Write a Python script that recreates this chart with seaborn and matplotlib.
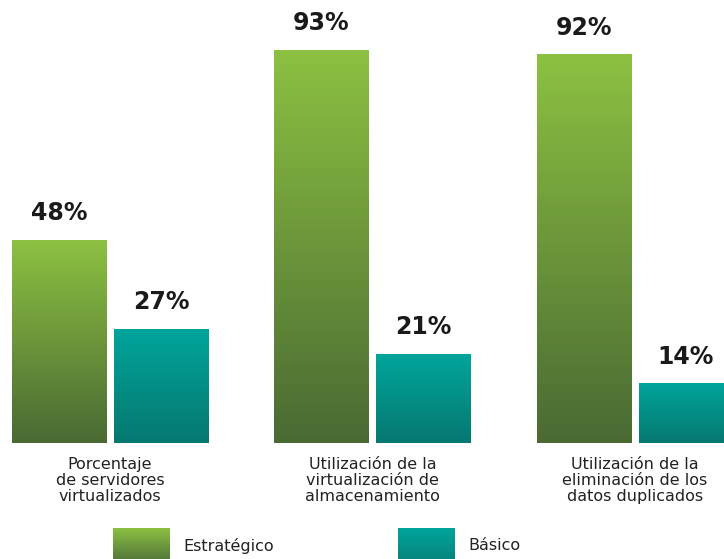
import numpy as np
import pandas as pd
import matplotlib
matplotlib.use("Agg")
import matplotlib.pyplot as plt
from matplotlib.colors import to_rgb
import seaborn as sns

# ---- data ----
categorias = [
    "Porcentaje\nde servidores\nvirtualizados",
    "Utilización de la\nvirtualización de\nalmacenamiento",
    "Utilización de la\neliminación de los\ndatos duplicados",
]
series = ["Estratégico", "Básico"]
estrategico = [48, 93, 92]
basico = [27, 21, 14]

# ---- styling ----
verde_top, verde_bot = "#8cc141", "#4a6a33"
teal_top, teal_bot = "#00a59b", "#067870"

sns.set_theme(style="white")
plt.rcParams["font.family"] = ["DejaVu Sans"]

df = pd.DataFrame({
    "categoria": categorias * 2,
    "grupo": [series[0]] * 3 + [series[1]] * 3,
    "valor": estrategico + basico,
})

W, H, DPI = 724, 559, 100
fig = plt.figure(figsize=(W / DPI, H / DPI), dpi=DPI)
ax = fig.add_axes([0, 116 / H, 1, 443 / H])

sns.barplot(
    data=df, x="categoria", y="valor", hue="grupo",
    hue_order=series, palette=[verde_top, teal_top],
    width=0.777, gap=0.078, errorbar=None, legend=False, ax=ax,
)


def gradiente(c_top, c_bot, n=256):
    a, b = np.array(to_rgb(c_top)), np.array(to_rgb(c_bot))
    t = np.linspace(0, 1, n)[:, None]
    return (a * (1 - t) + b * t)[:, None, :]


# vertical gradient fill for every bar
colores = [(verde_top, verde_bot), (teal_top, teal_bot)]
for cont, (ct, cb) in zip(ax.containers, colores):
    for bar in cont:
        x0, y0 = bar.get_x(), bar.get_y()
        w, h = bar.get_width(), bar.get_height()
        ax.imshow(gradiente(ct, cb), extent=[x0, x0 + w, y0, y0 + h],
                  origin="upper", aspect="auto", interpolation="bilinear",
                  zorder=bar.get_zorder() + 0.1)
        bar.set_facecolor("none")
        bar.set_edgecolor("none")
    ax.bar_label(cont, fmt="%g%%", padding=11, fontsize=17,
                 fontweight="bold", color="#1a1a1a")

ax.set_xlim(-0.419, 2.339)
ax.set_ylim(0, 105)
ax.set_xlabel("")
ax.set_ylabel("")
ax.set_yticks([])
ax.tick_params(axis="x", length=0, pad=10, labelsize=11.5, labelcolor="#222222")
for lab in ax.get_xticklabels():
    lab.set_linespacing(1.1)
for s in ax.spines.values():
    s.set_visible(False)

# ---- legend: gradient swatches with labels ----
leyenda = [
    (113, verde_top, "#55793a", 183, series[0]),
    (398, teal_top, "#07867d", 468, series[1]),
]
for x_px, ct, cb, tx_px, txt in leyenda:
    sw = fig.add_axes([x_px / W, 0, 57 / W, 31 / H])
    sw.imshow(gradiente(ct, cb), aspect="auto", interpolation="bilinear")
    sw.set_axis_off()
    fig.text(tx_px / W, 1 - 546 / H, txt, fontsize=11.5, color="#222222",
             ha="left", va="center")

fig.savefig("out.png", dpi=DPI)
